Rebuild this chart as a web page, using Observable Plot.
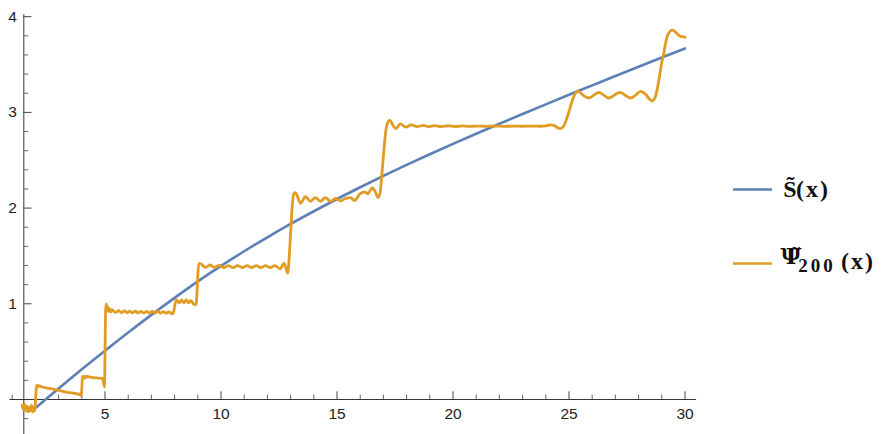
<!DOCTYPE html>
<html><head><meta charset="utf-8">
<script src="https://cdn.jsdelivr.net/npm/d3@7"></script>
<script src="https://cdn.jsdelivr.net/npm/@observablehq/plot@0.6"></script>
<style>body{margin:0;background:#fff}</style>
</head><body><div id="chart"></div>
<script>
// Smooth curve S~(x)
const blueX = [2,3,4,5,6,7,8,9,10,11,12,13,14,15,16,17,18,19,20,21,22,23,24,25,26,27,28,29,30];
const blueY = [-0.09,0.115,0.315,0.51,0.70,0.884,1.062,1.234,1.396,1.549,1.695,1.834,1.967,2.095,2.218,2.337,2.452,2.563,2.671,2.777,2.881,2.983,3.084,3.184,3.282,3.38,3.477,3.573,3.668];

// Oscillating curve Psi~_200(x)
const orangeX = [1.43,1.48,1.53,1.58,1.63,1.68,1.73,1.78,1.83,1.88,1.93,1.97,2.00,2.03,2.06,2.10,2.15,2.3,2.6,3.0,3.4,3.8,3.92,3.96,3.98,4.00,4.03,4.07,4.11,4.15,4.2,4.4,4.7,4.88,4.92,4.96,4.98,5.00,5.03,5.06,5.09,5.12,5.16,5.2,5.25,5.3,
5.35,5.47,5.59,5.71,5.83,5.95,6.07,6.19,6.31,6.43,6.55,6.67,6.79,6.91,7.03,7.15,7.27,7.39,7.51,7.63,7.75,7.85,7.92,7.97,8.02,8.08,8.2,8.3,8.4,8.5,8.6,8.7,8.8,8.88,8.93,8.97,9.0,9.04,9.1,
9.33,9.52,9.72,9.92,10.12,10.32,10.52,10.72,10.92,11.12,11.32,11.52,11.72,11.92,12.12,12.32,12.56,12.71,12.8,12.87,12.93,13.0,13.07,13.14,13.21,
13.43,13.64,13.86,14.07,14.28,14.5,14.72,14.93,15.15,15.36,15.58,15.75,16.0,16.2,16.32,16.52,16.65,16.76,16.85,16.95,17.02,17.1,17.2,17.28,17.4,17.53,17.74,17.96,18.2,18.45,18.7,18.95,19.2,19.5,19.8,20.1,20.4,20.7,21.0,21.4,21.8,22.2,22.6,23.0,23.4,23.8,24.0,24.2,24.35,24.5,24.63,24.75,24.85,24.95,25.05,25.15,25.28,25.42,
25.6,25.85,26.07,26.29,26.5,26.71,26.95,27.19,27.42,27.65,27.87,28.08,28.3,28.5,28.59,28.7,28.8,28.87,28.95,29.02,29.09,29.16,29.23,29.33,29.45,29.55,29.66,29.8,29.95,30.0];
const orangeY = [-0.06,-0.10,-0.05,-0.12,-0.07,-0.13,-0.08,-0.12,-0.06,-0.13,-0.08,-0.12,-0.03,0.10,0.15,0.13,0.145,0.13,0.115,0.095,0.075,0.058,0.05,0.07,0.04,0.12,0.24,0.22,0.245,0.225,0.24,0.232,0.224,0.22,0.2,0.15,0.13,0.5,0.95,1.00,0.93,0.97,0.92,0.95,0.915,0.94,
0.93,0.91,0.928,0.908,0.926,0.906,0.924,0.905,0.922,0.904,0.921,0.903,0.92,0.903,0.92,0.902,0.92,0.902,0.918,0.902,0.915,0.90,0.895,0.93,1.0,1.04,1.01,1.04,1.01,1.04,1.01,1.035,1.0,0.99,1.0,1.15,1.3,1.42,1.42,
1.38,1.405,1.38,1.40,1.378,1.398,1.378,1.398,1.378,1.398,1.378,1.398,1.378,1.398,1.378,1.398,1.366,1.424,1.37,1.32,1.45,1.74,2.02,2.15,2.16,
2.05,2.12,2.07,2.11,2.07,2.11,2.07,2.10,2.075,2.10,2.11,2.08,2.15,2.17,2.15,2.21,2.17,2.11,2.15,2.40,2.60,2.80,2.90,2.92,2.87,2.83,2.88,2.845,2.87,2.85,2.865,2.85,2.862,2.852,2.86,2.852,2.858,2.853,2.857,2.854,2.857,2.854,2.856,2.855,2.856,2.855,2.858,2.87,2.865,2.84,2.83,2.85,2.90,2.97,3.05,3.13,3.20,3.22,
3.18,3.15,3.18,3.21,3.18,3.15,3.18,3.21,3.18,3.15,3.18,3.22,3.19,3.13,3.12,3.15,3.24,3.33,3.45,3.55,3.62,3.72,3.79,3.84,3.86,3.85,3.82,3.795,3.79,3.785];

const xTicksMajor = [5,10,15,20,25,30];
const xTicksMinor = [1,2,3,4,6,7,8,9,11,12,13,14,16,17,18,19,21,22,23,24,26,27,28,29];
const yTicksMajor = [1,2,3,4];
const yTicksMinor = [-0.2,0.2,0.4,0.6,0.8,1.2,1.4,1.6,1.8,2.2,2.4,2.6,2.8,3.2,3.4,3.6,3.8];

const blueColor = "#5E81B5";
const orangeColor = "#E19C24";

const blue = blueX.map((x, i) => ({x, y: blueY[i]}));
const orange = orangeX.map((x, i) => ({x, y: orangeY[i]}));

const yAxisX = 1.5;
const plot = Plot.plot({
  width: 889, height: 434, margin: 0,
  style: {fontFamily: "'Liberation Sans', Arial, sans-serif", fontSize: "15.5px", color: "#222", background: "#fff"},
  x: {domain: [0.9, 30.5], range: [9.4, 696.1], axis: null},
  y: {domain: [-0.37, 4.1], range: [434.4, 6.6], axis: null},
  marks: [
    Plot.ruleY([0], {x1: 0.9, x2: 30.5, stroke: "#333", strokeWidth: 1}),
    Plot.ruleX([yAxisX], {y1: -0.37, y2: 4.02, stroke: "#333", strokeWidth: 1}),
    Plot.ruleX(xTicksMajor, {x: d => d, y1: 0, y2: 0.08, stroke: "#444"}),
    Plot.ruleX(xTicksMinor, {x: d => d, y1: 0, y2: 0.045, stroke: "#666"}),
    Plot.ruleY(yTicksMajor, {y: d => d, x1: yAxisX, x2: yAxisX + 0.35, stroke: "#444"}),
    Plot.ruleY(yTicksMinor, {y: d => d, x1: yAxisX, x2: yAxisX + 0.21, stroke: "#666"}),
    Plot.text(xTicksMajor, {x: d => d, y: 0, dy: 15, text: d => String(d), fill: "#222"}),
    Plot.text(yTicksMajor, {x: yAxisX, y: d => d, dx: -7, textAnchor: "end", text: d => String(d), fill: "#222"}),
    Plot.line(blue, {x: "x", y: "y", stroke: blueColor, strokeWidth: 2.6, curve: "monotone-x"}),
    Plot.line(orange, {x: "x", y: "y", stroke: orangeColor, strokeWidth: 2.8, curve: "monotone-x"})
  ]
});

const svg = d3.select(plot);
const serif = "'Liberation Serif', 'Times New Roman', serif";
const lg = svg.append("g").style("font-weight", "bold").attr("fill", "#111");
lg.append("line").attr("x1", 733).attr("x2", 772).attr("y1", 189.5).attr("y2", 189.5).attr("stroke", blueColor).attr("stroke-width", 2.6);
lg.append("line").attr("x1", 733).attr("x2", 772).attr("y1", 263.5).attr("y2", 263.5).attr("stroke", orangeColor).attr("stroke-width", 2.6);

function label(x, y, size, txt, opts = {}) {
  const t = lg.append("text").attr("x", x).attr("y", y)
    .style("font-family", opts.family || serif)
    .style("font-size", size + "px").text(txt);
  if (opts.spacing) t.style("letter-spacing", opts.spacing + "px");
  return t;
}
// tilde written as a combining accent on the letter
label(790, 197, 24, "S\u0303");
label(813, 197, 24, "(x)", {spacing: 2});
label(791, 264, 23, "\u03A8\u0303", {family: "'DejaVu Serif', serif"});
label(817, 272, 19, "200", {spacing: 3});
label(858, 269, 24, "(x)", {spacing: 2});

document.getElementById("chart").appendChild(plot);
</script>
</body></html>
